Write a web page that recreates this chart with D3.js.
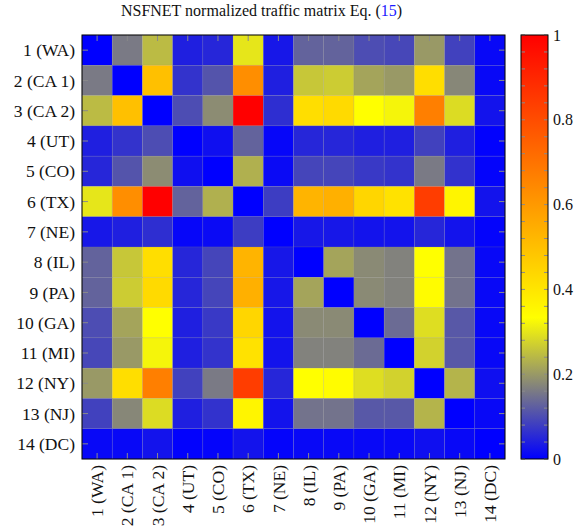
<!DOCTYPE html>
<html>
<head>
<meta charset="utf-8">
<script src="https://cdn.jsdelivr.net/npm/d3@7"></script>
<style>
  html, body { margin: 0; padding: 0; background: #fff; }
  svg { display: block; }
  text { font-family: "Liberation Serif", "DejaVu Serif", serif; fill: #111; }
</style>
</head>
<body>
<svg id="chart" width="586" height="529"></svg>
<script>
// Node labels of the NSFNET topology
const nodes = ["1 (WA)", "2 (CA 1)", "3 (CA 2)", "4 (UT)", "5 (CO)", "6 (TX)", "7 (NE)",
               "8 (IL)", "9 (PA)", "10 (GA)", "11 (MI)", "12 (NY)", "13 (NJ)", "14 (DC)"];

// Normalized traffic, one row per source node
const row1  = [0.000, 0.160, 0.245, 0.040, 0.050, 0.300, 0.030, 0.130, 0.130, 0.100, 0.093, 0.200, 0.085, 0.010];
const row2  = [0.160, 0.000, 0.500, 0.067, 0.110, 0.630, 0.040, 0.260, 0.267, 0.215, 0.200, 0.420, 0.177, 0.010];
const row3  = [0.245, 0.500, 0.000, 0.100, 0.183, 1.000, 0.060, 0.420, 0.430, 0.333, 0.320, 0.670, 0.287, 0.025];
const row4  = [0.040, 0.067, 0.100, 0.000, 0.020, 0.130, 0.008, 0.050, 0.050, 0.040, 0.040, 0.085, 0.040, 0.002];
const row5  = [0.050, 0.110, 0.183, 0.020, 0.000, 0.230, 0.013, 0.090, 0.090, 0.075, 0.067, 0.160, 0.065, 0.005];
const row6  = [0.300, 0.630, 1.000, 0.130, 0.230, 0.000, 0.080, 0.530, 0.540, 0.440, 0.410, 0.840, 0.360, 0.025];
const row7  = [0.030, 0.040, 0.060, 0.008, 0.013, 0.080, 0.000, 0.030, 0.030, 0.025, 0.025, 0.050, 0.025, 0.005];
const row8  = [0.130, 0.260, 0.420, 0.050, 0.090, 0.530, 0.030, 0.000, 0.215, 0.180, 0.170, 0.333, 0.150, 0.010];
const row9  = [0.130, 0.267, 0.430, 0.050, 0.090, 0.540, 0.030, 0.215, 0.000, 0.180, 0.170, 0.340, 0.150, 0.010];
const row10 = [0.100, 0.215, 0.333, 0.040, 0.075, 0.440, 0.025, 0.180, 0.180, 0.000, 0.140, 0.290, 0.115, 0.010];
const row11 = [0.093, 0.200, 0.320, 0.040, 0.067, 0.410, 0.025, 0.170, 0.170, 0.140, 0.000, 0.275, 0.115, 0.010];
const row12 = [0.200, 0.420, 0.670, 0.085, 0.160, 0.840, 0.050, 0.333, 0.340, 0.290, 0.275, 0.000, 0.235, 0.020];
const row13 = [0.085, 0.177, 0.287, 0.040, 0.065, 0.360, 0.025, 0.150, 0.150, 0.115, 0.115, 0.235, 0.000, 0.010];
const row14 = [0.010, 0.010, 0.025, 0.002, 0.005, 0.025, 0.005, 0.010, 0.010, 0.010, 0.010, 0.020, 0.010, 0.000];
const matrix = [row1, row2, row3, row4, row5, row6, row7, row8, row9, row10, row11, row12, row13, row14];

// Colour bar tick labels
const barTicks = [0, 0.2, 0.4, 0.6, 0.8, 1];

const svg = d3.select("#chart");
const plot = { left: 82, top: 35, width: 423, height: 424 };
const bar  = { left: 521, top: 35, width: 27, height: 424 };

// blue -> yellow -> orange -> red, evenly spaced
const colorStops = [0, 1/3, 2/3, 1];
const colorVals  = ["#0000ff", "#ffff00", "#ff8000", "#ff0000"];
const color = d3.scaleLinear().domain(colorStops).range(colorVals).interpolate(d3.interpolateRgb).clamp(true);

const x = d3.scaleBand().domain(nodes).range([plot.left, plot.left + plot.width]);
const y = d3.scaleBand().domain(nodes).range([plot.top, plot.top + plot.height]);

// Title
const title = svg.append("text")
  .attr("x", 261.5).attr("y", 16)
  .attr("text-anchor", "middle")
  .style("font-size", "16px");
title.append("tspan").text("NSFNET normalized traffic matrix Eq. (");
title.append("tspan").style("fill", "#1a1aff").text("15");
title.append("tspan").text(")");

// Heatmap cells
const cells = [];
matrix.forEach((row, i) => row.forEach((v, j) => cells.push({ r: nodes[i], c: nodes[j], v })));
svg.append("g").selectAll("rect").data(cells).join("rect")
  .attr("x", d => x(d.c)).attr("y", d => y(d.r))
  .attr("width", x.bandwidth()).attr("height", y.bandwidth())
  .attr("fill", d => color(d.v))
  .attr("stroke", "rgba(140,140,140,0.28)").attr("stroke-width", 0.6);

// Inner tick marks on all four sides
const tickLen = 6;
const ticks = svg.append("g").attr("stroke", "#8a8a8a").attr("stroke-width", 1);
nodes.forEach(n => {
  const cx = x(n) + x.bandwidth() / 2;
  const cy = y(n) + y.bandwidth() / 2;
  ticks.append("line").attr("x1", cx).attr("x2", cx).attr("y1", plot.top).attr("y2", plot.top + tickLen);
  ticks.append("line").attr("x1", cx).attr("x2", cx).attr("y1", plot.top + plot.height).attr("y2", plot.top + plot.height - tickLen);
  ticks.append("line").attr("y1", cy).attr("y2", cy).attr("x1", plot.left).attr("x2", plot.left + tickLen);
  ticks.append("line").attr("y1", cy).attr("y2", cy).attr("x1", plot.left + plot.width).attr("x2", plot.left + plot.width - tickLen);
});

// Plot frame
svg.append("rect")
  .attr("x", plot.left).attr("y", plot.top).attr("width", plot.width).attr("height", plot.height)
  .attr("fill", "none").attr("stroke", "#000").attr("stroke-width", 1);

// Row labels
svg.append("g").selectAll("text").data(nodes).join("text")
  .attr("x", plot.left - 7).attr("y", d => y(d) + y.bandwidth() / 2)
  .attr("dy", "0.35em").attr("text-anchor", "end")
  .style("font-size", "17.5px")
  .text(d => d);

// Column labels, rotated
svg.append("g").selectAll("text").data(nodes).join("text")
  .attr("transform", d => `translate(${x(d) + x.bandwidth() / 2},${plot.top + plot.height + 6}) rotate(-90)`)
  .attr("dy", "0.35em").attr("text-anchor", "end")
  .style("font-size", "17.5px")
  .text(d => d);

// Colour bar
const defs = svg.append("defs");
const grad = defs.append("linearGradient").attr("id", "cbar")
  .attr("x1", "0").attr("x2", "0").attr("y1", "1").attr("y2", "0");
colorStops.forEach((s, k) => grad.append("stop").attr("offset", s).attr("stop-color", colorVals[k]));

svg.append("rect")
  .attr("x", bar.left).attr("y", bar.top).attr("width", bar.width).attr("height", bar.height)
  .attr("fill", "url(#cbar)");

const cy = d3.scaleLinear().domain([0, 1]).range([bar.top + bar.height, bar.top]);
const minor = d3.range(0, 1.0001, 0.04);
const cb = svg.append("g").attr("stroke", "#8a8a8a").attr("stroke-width", 1);
minor.forEach(t => {
  const yy = cy(t);
  cb.append("line").attr("x1", bar.left).attr("x2", bar.left + 4).attr("y1", yy).attr("y2", yy);
  cb.append("line").attr("x1", bar.left + bar.width).attr("x2", bar.left + bar.width - 4).attr("y1", yy).attr("y2", yy);
});

svg.append("rect")
  .attr("x", bar.left).attr("y", bar.top).attr("width", bar.width).attr("height", bar.height)
  .attr("fill", "none").attr("stroke", "#000").attr("stroke-width", 1);

svg.append("g").selectAll("text").data(barTicks).join("text")
  .attr("x", bar.left + bar.width + 5).attr("y", d => cy(d))
  .attr("dy", "0.35em")
  .style("font-size", "16px")
  .text(d => d3.format("~g")(d));
</script>
</body>
</html>
